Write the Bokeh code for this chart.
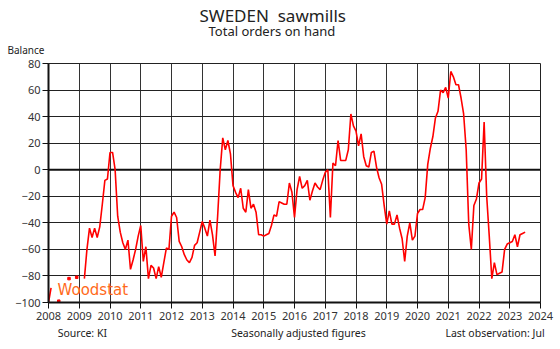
import numpy as np
from bokeh.plotting import figure
from bokeh.models import Label, Range1d, FixedTicker, ColumnDataSource, Title, LinearAxis
from bokeh.embed import file_html
from bokeh.resources import INLINE

nan = float("nan")

# Monthly balance values, Jan..Dec (2023: Jan..Jul)
v2008 = [-100, -89, nan, nan, -99, nan, nan, nan, -82, nan, nan, -81]
v2009 = [nan, nan, -82, -60, -44, -51, -44, -51, -43, -26, -8, -7]
v2010 = [13, 13, 0, -35, -47, -55, -60, -53, -75, -68, -60, -50]
v2011 = [-42, -69, -58, -82, -72, -74, -82, -73, -81, -70, -59, -60]
v2012 = [-35, -32, -36, -54, -58, -64, -68, -70, -66, -57, -55, -47]
v2013 = [-39, -44, -50, -38, -49, -65, -35, 0, 24, 15, 22, 12]
v2014 = [-12, -17, -21, -14, -29, -32, -15, -29, -26, -32, -49, -49]
v2015 = [-50, -49, -48, -42, -34, -35, -24, -25, -26, -26, -10, -17]
v2016 = [-36, -15, -5, -14, -12, -8, -23, -16, -10, -13, -15, -8]
v2017 = [-2, 0, -36, 5, 3, 22, 7, 7, 7, 15, 42, 33]
v2018 = [29, 18, 27, 10, 3, 2, 13, 14, 2, -6, -11, -27]
v2019 = [-41, -31, -41, -41, -34, -44, -52, -69, -50, -40, -53, -50]
v2020 = [-33, -30, -30, -21, 4, 16, 25, 39, 44, 60, 58, 62]
v2021 = [54, 74, 70, 64, 64, 54, 42, 15, -41, -60, -27, -22]
v2022 = [-10, -7, 36, -20, -50, -82, -70, -79, -78, -77, -60, -56]
v2023 = [-55, -54, -49, -58, -49, -48, -47]

year_ticks = list(range(2008, 2025))
value_ticks = list(range(-100, 81, 20))

footer_texts = ["Source: KI", "Seasonally adjusted figures", "Last observation: Jul"]
footer_pos = [2009.1, 2016.13, 2022.52]

series = (v2008 + v2009 + v2010 + v2011 + v2012 + v2013 + v2014 + v2015 +
          v2016 + v2017 + v2018 + v2019 + v2020 + v2021 + v2022 + v2023)
vals = np.array(series, dtype=float)
xs = 2008 + np.arange(len(vals)) / 12.0

# isolated observations (no neighbours) drawn as dots
iso = []
for i, v in enumerate(vals):
    if np.isnan(v):
        continue
    left = np.isnan(vals[i - 1]) if i > 0 else True
    right = np.isnan(vals[i + 1]) if i < len(vals) - 1 else True
    if left and right:
        iso.append(i)

FONT = "Noto Sans"

p = figure(width=560, height=349, output_backend="svg", toolbar_location=None,
           title=None,
           x_range=Range1d(2008, 2024), y_range=Range1d(-100, 80),
           min_border_left=48, min_border_right=20, min_border_top=63,
           min_border_bottom=47)
p.background_fill_color = "white"
p.border_fill_color = "white"
p.outline_line_color = "#222222"
p.outline_line_width = 1

p.xaxis.ticker = FixedTicker(ticks=year_ticks)
p.yaxis.ticker = FixedTicker(ticks=value_ticks)
p.xaxis.minor_tick_line_color = None
p.yaxis.minor_tick_line_color = None
for ax in (p.xaxis, p.yaxis):
    ax.axis_line_color = "#111111"
    ax.axis_line_width = 2
    ax.major_tick_line_color = "#111111"
    ax.major_tick_in = 0
    ax.major_tick_out = 6
    ax.major_label_text_font = FONT
    ax.major_label_text_font_size = "11px"
    ax.major_label_text_color = "#333333"
p.xaxis.major_label_standoff = 3
p.yaxis.major_label_standoff = 2

# footer line as a second, line-less axis below
foot = LinearAxis(ticker=FixedTicker(ticks=footer_pos),
                  major_label_overrides={k: t for k, t in zip(footer_pos, footer_texts)})
foot.axis_line_color = None
foot.major_tick_line_color = None
foot.minor_tick_line_color = None
foot.major_tick_in = 0
foot.major_tick_out = 0
foot.major_label_standoff = 3
foot.major_label_text_font = FONT
foot.major_label_text_font_size = "10.5px"
foot.major_label_text_color = "#222222"
p.add_layout(foot, "below")

p.xgrid.ticker = FixedTicker(ticks=year_ticks)
p.ygrid.ticker = FixedTicker(ticks=value_ticks)
p.xgrid.grid_line_color = "#333333"
p.ygrid.grid_line_color = "#222222"
p.xgrid.grid_line_width = 1
p.ygrid.grid_line_width = 1

# zero line
p.line(x=[2008, 2024], y=[0, 0], line_color="#111111", line_width=2)

src = ColumnDataSource(dict(x=xs, y=vals))
p.line(x="x", y="y", source=src, line_color="#FF0000", line_width=1.6)
p.scatter(x=xs[iso], y=vals[iso], marker="square", size=2.5,
          fill_color="#FF0000", line_color="#FF0000")

# titles stacked above the frame (first added = closest to frame)
p.add_layout(Title(text="Balance", align="left", offset=-41, standoff=14,
                   text_font=FONT, text_font_size="10px", text_font_style="normal",
                   text_color="#222222"), "above")
p.add_layout(Title(text="Total orders on hand", align="left", offset=160, standoff=-12,
                   text_font=FONT, text_font_size="13px", text_font_style="normal",
                   text_color="#222222"), "above")
p.add_layout(Title(text="SWEDEN\u00a0 sawmills", align="left", offset=151, standoff=-2,
                   text_font=FONT, text_font_size="17px", text_font_style="normal",
                   text_color="#222222"), "above")

p.add_layout(Label(x=9, y=13, x_units="screen", y_units="screen",
                   text="Woodstat", text_font="DejaVu Sans", text_font_size="15px",
                   text_align="left", text_baseline="middle", text_color="#FF6A1A"))

open("out.html", "w").write(file_html(p, INLINE))
